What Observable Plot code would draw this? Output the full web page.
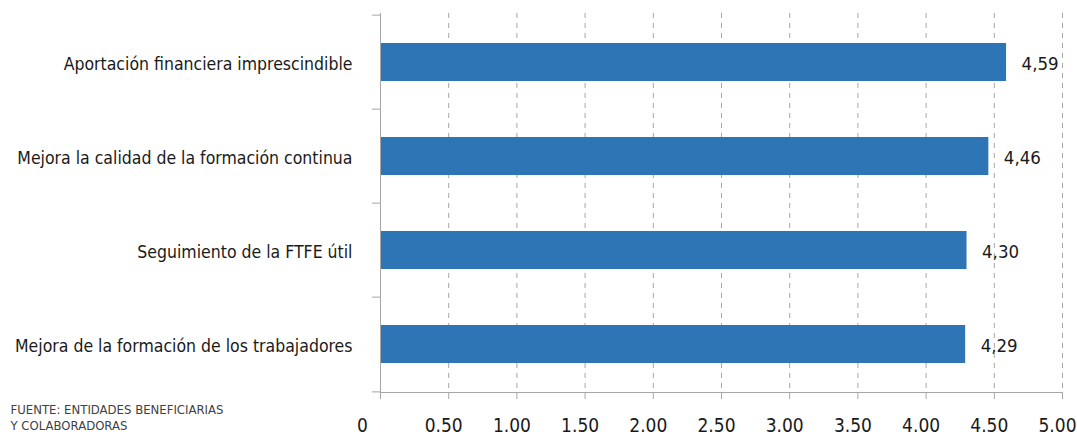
<!DOCTYPE html>
<html><head><meta charset="utf-8">
<script src="https://cdn.jsdelivr.net/npm/d3@7"></script>
<script src="https://cdn.jsdelivr.net/npm/@observablehq/plot@0.6"></script>
<style>body{margin:0;background:#fff;overflow:hidden}</style>
</head><body><div id="chart"></div>
<script>
const categories = [
  "Aportación financiera imprescindible",
  "Mejora la calidad de la formación continua",
  "Seguimiento de la FTFE útil",
  "Mejora de la formación de los trabajadores"
];
const values = [4.59, 4.46, 4.30, 4.29];
const valueLabels = ["4,59", "4,46", "4,30", "4,29"];
const xTicks = [0, 0.5, 1, 1.5, 2, 2.5, 3, 3.5, 4, 4.5, 5];
const sourceLines = ["FUENTE: ENTIDADES BENEFICIARIAS", "Y COLABORADORAS"];

const data = categories.map((c, i) => ({category: c, value: values[i], label: valueLabels[i]}));
const W = 1077, H = 437, mt = 13, mb = 45, ml = 380, mr = 15;
const step = (H - mt - mb) / categories.length;
const font = '"DejaVu Sans Condensed","DejaVu Sans",sans-serif';
const grey = "#a6a6a6";
const ink = "#1a1a1a";

const chart = Plot.plot({
  width: W, height: H,
  marginTop: mt, marginBottom: mb, marginLeft: ml, marginRight: mr,
  style: {fontFamily: font, fontSize: "18px", color: ink, background: "#fff", fontStretch: "condensed"},
  x: {domain: [0, 5], axis: null},
  y: {domain: categories, paddingInner: 0.6, paddingOuter: 0.3, axis: null},
  marks: [
    Plot.ruleX(xTicks.filter(d => d > 0), {stroke: grey, strokeDasharray: "5,5"}),
    Plot.barX(data, {x: "value", y: "category", fill: "#2E75B6"}),
    Plot.text(data, {x: "value", y: "category", text: "label", textAnchor: "start", dx: 15, dy: 2, fontSize: 18.5, fill: ink}),
    Plot.frame({anchor: "bottom", stroke: grey}),
    Plot.ruleX([0], {stroke: grey, insetBottom: -7}),
    Plot.ruleY(categories, {y: d => d, x1: -0.06, x2: 0, dy: -step / 2, stroke: grey}),
    Plot.ruleY([categories[categories.length - 1]], {y: d => d, x1: -0.06, x2: 0, dy: step / 2, stroke: grey}),
    Plot.axisX(xTicks.filter(d => d > 0), {tickSize: 7, stroke: grey, tickFormat: () => "", label: null}),
    Plot.axisX(xTicks.filter(d => d > 0), {tickSize: 0, tickPadding: 26, tickFormat: d => d.toFixed(2), dx: -5, fontSize: 19, fill: ink, label: null}),
    Plot.axisX([0], {tickSize: 0, tickPadding: 26, tickFormat: () => "0", dx: -18, fontSize: 19, fill: ink, label: null}),
    Plot.axisY(categories, {tickSize: 0, tickPadding: 28, dy: 2, fontSize: 17.5, fill: ink, label: null}),
    Plot.text([sourceLines.join("\n")], {frameAnchor: "bottom-left", textAnchor: "start", lineAnchor: "top", dx: 10 - ml, dy: 9, fontSize: 13, lineHeight: 1.3, fill: "#404040"})
  ]
});
document.getElementById("chart").appendChild(chart);
</script>
</body></html>
